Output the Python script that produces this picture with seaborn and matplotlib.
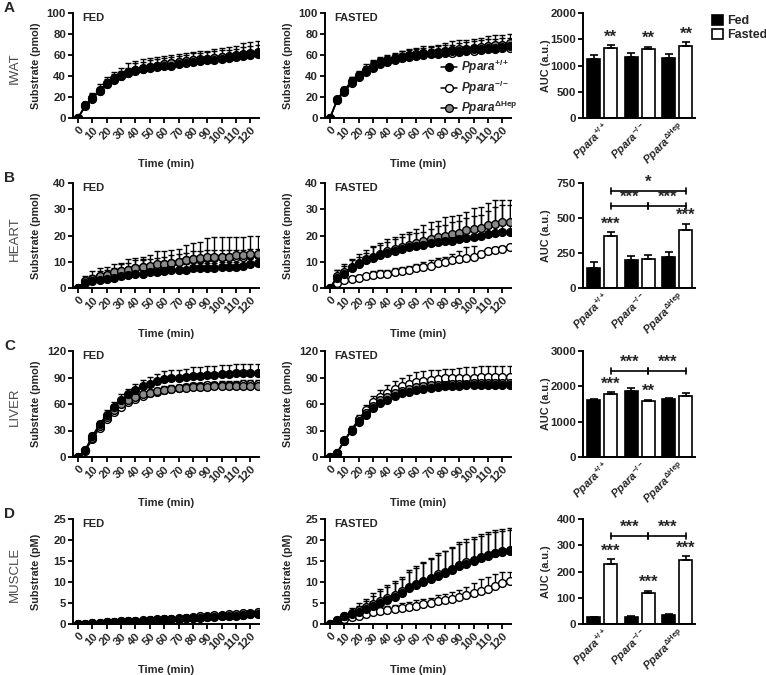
import numpy as np
import pandas as pd
import matplotlib
matplotlib.use('Agg')
import matplotlib.pyplot as plt
import seaborn as sns
from matplotlib.patches import Patch

sns.set_theme(style='ticks')
plt.rcParams['font.family'] = ['Liberation Sans', 'DejaVu Sans']
plt.rcParams['font.weight'] = 'bold'
plt.rcParams['axes.labelweight'] = 'bold'
plt.rcParams['mathtext.fontset'] = 'custom'
plt.rcParams['mathtext.it'] = 'Liberation Sans:italic:bold'
plt.rcParams['mathtext.rm'] = 'Liberation Sans:bold'
plt.rcParams['mathtext.bf'] = 'Liberation Sans:bold'
plt.rcParams['mathtext.sf'] = 'Liberation Sans:bold'

# ---------------- data ----------------
time_min = [0, 5, 10, 15, 20, 25, 30, 35, 40, 45, 50, 55, 60, 65, 70, 75, 80, 85, 90, 95, 100, 105, 110, 115, 120, 125]
tick_times = [0, 10, 20, 30, 40, 50, 60, 70, 80, 90, 100, 110, 120]

genotypes = ['Ppara+/+', 'Ppara-/-', 'PparaDHep']
geno_labels = [r'$\mathit{Ppara}^{+/+}$', r'$\mathit{Ppara}^{-/-}$', r'$\mathit{Ppara}^{\Delta\mathrm{Hep}}$']
conditions = ['Fed', 'Fasted']
tissues = ['IWAT', 'HEART', 'LIVER', 'MUSCLE']
panel_letters = ['A', 'B', 'C', 'D']
line_ylabels = ['Substrate (pmol)', 'Substrate (pmol)', 'Substrate (pmol)', 'Substrate (pM)']
line_yticks = [[0, 20, 40, 60, 80, 100], [0, 10, 20, 30, 40], [0, 30, 60, 90, 120], [0, 5, 10, 15, 20, 25]]
bar_yticks = [[0, 500, 1000, 1500, 2000], [0, 250, 500, 750], [0, 1000, 2000, 3000], [0, 100, 200, 300, 400]]

# IWAT
iwat_fed_wt = [0, 11, 18, 26, 32, 36, 40, 43, 45, 47, 48, 49, 50, 50, 51, 52, 53, 54, 55, 55, 56, 57, 58, 59, 60, 61]
iwat_fed_wt_err = [0, 2, 3, 3, 3, 3, 3, 3, 3, 3, 3, 3, 3, 3, 3, 3, 3, 3, 3, 3, 3, 3, 3, 3, 3, 3]
iwat_fed_ko = [0, 12, 19, 27, 33, 38, 41, 44, 46, 48, 49, 50, 51, 52, 53, 54, 55, 56, 56, 57, 58, 59, 60, 61, 62, 63]
iwat_fed_ko_err = [0, 3, 5, 5, 6, 6, 7, 8, 8, 8, 8, 8, 8, 8, 8, 8, 8, 8, 8, 9, 9, 9, 9, 10, 10, 10]
iwat_fed_hep = [0, 12, 19, 26, 32, 37, 40, 43, 46, 47, 49, 50, 51, 52, 53, 54, 55, 55, 56, 57, 58, 58, 59, 60, 61, 62]
iwat_fed_hep_err = [0, 2, 4, 4, 5, 5, 5, 5, 6, 6, 6, 6, 6, 6, 6, 6, 7, 7, 7, 7, 7, 7, 7, 8, 8, 8]
iwat_fast_wt = [0, 17, 26, 34, 40, 45, 49, 52, 54, 56, 58, 59, 60, 61, 62, 62, 63, 64, 64, 65, 66, 66, 67, 67, 68, 69]
iwat_fast_wt_err = [0, 2, 3, 4, 4, 4, 4, 4, 4, 4, 4, 4, 4, 4, 4, 4, 4, 4, 4, 4, 4, 4, 4, 4, 4, 4]
iwat_fast_ko = [0, 17, 25, 33, 39, 44, 48, 51, 53, 55, 57, 58, 59, 60, 61, 61, 62, 62, 63, 64, 64, 65, 66, 66, 67, 67]
iwat_fast_ko_err = [0, 2, 4, 6, 5, 6, 6, 6, 6, 6, 7, 7, 7, 7, 7, 8, 8, 8, 8, 8, 9, 9, 9, 9, 9, 9]
iwat_fast_hep = [0, 18, 27, 35, 41, 46, 50, 53, 55, 57, 58, 60, 61, 62, 62, 63, 64, 65, 66, 66, 67, 68, 69, 70, 70, 71]
iwat_fast_hep_err = [0, 2, 3, 4, 4, 5, 5, 5, 5, 5, 6, 6, 6, 7, 7, 7, 7, 8, 8, 8, 8, 8, 9, 9, 9, 9]

# HEART
heart_fed_wt = [0, 2, 2.5, 3, 3.5, 4, 4.5, 5, 5.5, 5.5, 6, 6, 6.5, 7, 7, 7, 7.5, 7.5, 7.5, 7.5, 8, 8, 8, 8.5, 9, 9.5]
heart_fed_wt_err = [0, 1, 1, 1, 1.5, 1.5, 2, 2, 2, 5, 2, 2, 2, 2, 2, 2, 2, 2, 2, 2, 2, 2, 2, 2, 2, 2]
heart_fed_ko = [0, 2.5, 3.5, 4.5, 5, 5.5, 6.5, 7, 7.5, 8, 8, 8.5, 9, 9.5, 10, 10.5, 11, 11, 11.5, 11.5, 12, 12, 12, 12, 12.5, 12.5]
heart_fed_ko_err = [0, 1, 1.5, 2, 2, 2, 2.5, 2.5, 3, 3, 3, 3, 3, 3, 3, 3, 3, 3, 3, 3, 2.5, 2.5, 2.5, 2.5, 2.5, 2.5]
heart_fed_hep = [0, 2.5, 3.5, 4.5, 5, 6, 6.5, 7, 7.5, 8, 8.5, 9, 9, 9.5, 10, 10.5, 11, 11.5, 12, 12, 12, 12, 12.5, 12.5, 13, 13]
heart_fed_hep_err = [0, 2, 3, 3, 3, 3, 3, 4, 4, 4, 4, 5, 5, 5, 5, 6, 6, 6, 7, 7.5, 7.5, 7.5, 7, 7, 7, 7]
heart_fast_wt = [0, 4, 5.5, 7.5, 9, 10.5, 11.5, 12.5, 13.5, 14, 15, 15.5, 16, 16.5, 17, 17.5, 18, 18, 18.5, 19, 19.5, 20, 20.5, 21, 21.5, 21.5]
heart_fast_wt_err = [0, 3, 3, 3, 3, 3, 4, 4, 4, 4.5, 4.5, 5, 5, 5, 5.5, 6, 6, 7, 7, 7.5, 8, 8, 9, 10, 10, 10]
heart_fast_ko = [0, 2, 3, 3.5, 4, 4.5, 5, 5.5, 5.5, 6, 6.5, 7, 7.5, 8, 8.5, 9.5, 10, 10.5, 11, 11.5, 12, 13, 14, 14.5, 15, 15.5]
heart_fast_ko_err = [0, 1, 1, 1, 1, 1, 1.5, 1.5, 1.5, 1.5, 1.5, 1.5, 1.5, 2, 2, 2, 2, 2.5, 3, 4, 4, 1, 1, 1, 1, 1]
heart_fast_hep = [0, 4.5, 6, 8, 9.5, 11, 12, 13, 14, 15, 15.5, 16.5, 17, 18, 18.5, 19.5, 20, 20.5, 21, 22, 22.5, 23, 24, 24.5, 25, 25]
heart_fast_hep_err = [0, 2.5, 3, 3, 3.5, 3.5, 4, 4, 4.5, 4.5, 5, 5, 5.5, 6, 6.5, 6, 7, 7, 7, 7, 8, 8, 8.5, 9, 8.5, 8.5]

# LIVER
liver_fed_wt = [0, 8, 24, 37, 48, 57, 65, 71, 76, 80, 83, 86, 88, 89, 90, 91, 92, 92, 93, 93, 94, 94, 95, 95, 95, 95]
liver_fed_wt_err = [0, 2, 3, 4, 5, 5, 6, 6, 7, 7, 8, 8, 9, 9, 9, 9, 10, 10, 10, 10, 10, 10, 10, 10, 10, 10]
liver_fed_ko = [0, 7, 20, 33, 43, 51, 57, 62, 66, 69, 72, 74, 76, 77, 78, 79, 80, 80, 81, 81, 82, 82, 82, 83, 83, 83]
liver_fed_ko_err = [0, 2, 3, 4, 4, 4, 4, 4, 4, 4, 4, 4, 4, 4, 4, 4, 4, 4, 4, 4, 4, 4, 4, 4, 4, 4]
liver_fed_hep = [0, 8, 22, 35, 45, 53, 60, 64, 68, 71, 73, 75, 76, 77, 78, 78, 79, 79, 79, 80, 80, 80, 80, 80, 80, 80]
liver_fed_hep_err = [0, 2, 2, 3, 3, 3, 3, 3, 3, 3, 3, 3, 3, 3, 3, 3, 3, 3, 3, 3, 3, 3, 3, 3, 3, 3]
liver_fast_wt = [0, 5, 18, 30, 40, 48, 55, 61, 65, 69, 72, 74, 76, 77, 78, 79, 80, 80, 80, 81, 81, 81, 81, 82, 82, 82]
liver_fast_wt_err = [0, 1, 2, 3, 4, 4, 4, 4, 4, 4, 4, 4, 4, 4, 4, 4, 4, 4, 4, 4, 4, 4, 4, 4, 4, 4]
liver_fast_ko = [0, 5, 19, 31, 43, 53, 62, 68, 73, 77, 80, 83, 85, 86, 87, 88, 89, 89, 90, 90, 90, 91, 91, 91, 91, 91]
liver_fast_ko_err = [0, 2, 3, 4, 5, 6, 7, 8, 8, 9, 10, 10, 11, 11, 11, 11, 11, 11, 11, 12, 12, 12, 12, 12, 12, 12]
liver_fast_hep = [0, 5, 18, 31, 41, 50, 58, 64, 68, 72, 75, 77, 79, 80, 81, 82, 82, 83, 83, 83, 84, 84, 84, 84, 84, 84]
liver_fast_hep_err = [0, 1, 2, 3, 4, 4, 4, 4, 4, 4, 4, 4, 4, 4, 4, 4, 4, 4, 4, 4, 4, 4, 4, 4, 4, 4]

# MUSCLE
muscle_fed_wt = [0, 0.1, 0.2, 0.3, 0.4, 0.5, 0.5, 0.6, 0.7, 0.8, 0.9, 1.0, 1.1, 1.2, 1.3, 1.4, 1.4, 1.5, 1.6, 1.7, 1.8, 1.9, 2.0, 2.1, 2.3, 2.5]
muscle_fed_wt_err = [0, 0.1, 0.1, 0.1, 0.1, 0.1, 0.1, 0.1, 0.1, 0.1, 0.2, 0.2, 0.2, 0.2, 0.2, 0.2, 0.2, 0.2, 0.2, 0.2, 0.2, 0.2, 0.2, 0.2, 0.2, 0.2]
muscle_fed_ko = [0, 0.1, 0.2, 0.3, 0.4, 0.5, 0.6, 0.7, 0.7, 0.8, 0.9, 1.0, 1.1, 1.2, 1.3, 1.4, 1.5, 1.6, 1.7, 1.8, 1.9, 2.0, 2.1, 2.2, 2.4, 2.6]
muscle_fed_ko_err = [0, 0.1, 0.1, 0.1, 0.1, 0.1, 0.1, 0.1, 0.1, 0.1, 0.2, 0.2, 0.2, 0.2, 0.2, 0.2, 0.2, 0.2, 0.2, 0.2, 0.2, 0.2, 0.2, 0.2, 0.2, 0.2]
muscle_fed_hep = [0, 0.1, 0.2, 0.3, 0.4, 0.5, 0.6, 0.7, 0.8, 0.9, 1.0, 1.1, 1.2, 1.3, 1.4, 1.5, 1.7, 1.8, 1.9, 2.1, 2.2, 2.3, 2.4, 2.6, 2.7, 2.8]
muscle_fed_hep_err = [0, 0.1, 0.1, 0.1, 0.1, 0.1, 0.1, 0.1, 0.1, 0.1, 0.2, 0.2, 0.2, 0.2, 0.2, 0.2, 0.2, 0.2, 0.2, 0.2, 0.2, 0.2, 0.2, 0.2, 0.2, 0.2]
muscle_fast_wt = [0, 1.0, 1.8, 2.3, 2.8, 3.5, 4.2, 5.0, 5.8, 6.5, 7.3, 8.5, 9.2, 10.0, 10.8, 11.5, 12.2, 12.8, 13.8, 14.3, 15.0, 15.7, 16.2, 16.8, 17.2, 17.5]
muscle_fast_wt_err = [0, 0.3, 0.6, 1.0, 1.5, 2.0, 2.5, 2.8, 3.0, 3.2, 3.5, 4.0, 4.2, 4.5, 4.7, 5.0, 5.2, 5.2, 5.3, 5.3, 5.3, 5.2, 5.2, 5.0, 5.0, 5.0]
muscle_fast_ko = [0, 0.8, 1.2, 1.6, 2.0, 2.4, 2.8, 3.0, 3.3, 3.5, 3.8, 4.1, 4.4, 4.7, 5.0, 5.4, 5.7, 6.0, 6.4, 6.8, 7.3, 7.8, 8.3, 9.0, 9.8, 10.2]
muscle_fast_ko_err = [0, 0.2, 0.4, 0.6, 0.8, 1.0, 1.0, 1.0, 1.0, 1.1, 1.2, 1.2, 1.2, 1.2, 1.3, 1.4, 1.5, 1.6, 1.8, 2.0, 2.5, 2.8, 3.0, 3.0, 2.5, 2.3]
muscle_fast_hep = [0, 1.0, 1.8, 2.6, 3.3, 4.0, 4.8, 5.5, 6.3, 7.0, 7.8, 8.8, 9.5, 10.2, 11.0, 11.8, 12.3, 13.0, 14.0, 14.8, 15.3, 16.0, 16.5, 17.0, 17.3, 17.6]
muscle_fast_hep_err = [0, 0.4, 0.8, 1.2, 1.6, 2.0, 2.5, 2.8, 3.0, 3.2, 3.5, 4.0, 4.2, 4.5, 4.8, 5.0, 5.2, 5.4, 5.5, 5.5, 5.5, 5.5, 5.5, 5.4, 5.3, 5.2]

# AUC bars (order: +/+, -/-, dHep)
iwat_auc_fed = [1130, 1165, 1140]
iwat_auc_fed_err = [70, 75, 80]
iwat_auc_fast = [1330, 1315, 1370]
iwat_auc_fast_err = [55, 45, 75]
heart_auc_fed = [145, 200, 220]
heart_auc_fed_err = [40, 30, 40]
heart_auc_fast = [370, 210, 415]
heart_auc_fast_err = [30, 25, 45]
liver_auc_fed = [1600, 1880, 1640]
liver_auc_fed_err = [40, 60, 30]
liver_auc_fast = [1780, 1580, 1730]
liver_auc_fast_err = [50, 40, 90]
muscle_auc_fed = [25, 28, 33]
muscle_auc_fed_err = [3, 4, 4]
muscle_auc_fast = [228, 117, 242]
muscle_auc_fast_err = [18, 10, 16]

# significance marks above Fasted bars, and brackets (between Fasted bars)
iwat_stars = ['**', '**', '**']
heart_stars = ['***', '', '***']
liver_stars = ['***', '**', '']
muscle_stars = ['***', '***', '***']
heart_brackets = [(0, 2, 695, '*'), (0, 1, 588, '***'), (1, 2, 588, '***')]
liver_brackets = [(0, 1, 2430, '***'), (1, 2, 2430, '***')]
muscle_brackets = [(0, 1, 335, '***'), (1, 2, 335, '***')]

# ---------------- assemble ----------------
line_data = [
    {'fed': {'wt': (iwat_fed_wt, iwat_fed_wt_err), 'ko': (iwat_fed_ko, iwat_fed_ko_err), 'hep': (iwat_fed_hep, iwat_fed_hep_err)},
     'fast': {'wt': (iwat_fast_wt, iwat_fast_wt_err), 'ko': (iwat_fast_ko, iwat_fast_ko_err), 'hep': (iwat_fast_hep, iwat_fast_hep_err)}},
    {'fed': {'wt': (heart_fed_wt, heart_fed_wt_err), 'ko': (heart_fed_ko, heart_fed_ko_err), 'hep': (heart_fed_hep, heart_fed_hep_err)},
     'fast': {'wt': (heart_fast_wt, heart_fast_wt_err), 'ko': (heart_fast_ko, heart_fast_ko_err), 'hep': (heart_fast_hep, heart_fast_hep_err)}},
    {'fed': {'wt': (liver_fed_wt, liver_fed_wt_err), 'ko': (liver_fed_ko, liver_fed_ko_err), 'hep': (liver_fed_hep, liver_fed_hep_err)},
     'fast': {'wt': (liver_fast_wt, liver_fast_wt_err), 'ko': (liver_fast_ko, liver_fast_ko_err), 'hep': (liver_fast_hep, liver_fast_hep_err)}},
    {'fed': {'wt': (muscle_fed_wt, muscle_fed_wt_err), 'ko': (muscle_fed_ko, muscle_fed_ko_err), 'hep': (muscle_fed_hep, muscle_fed_hep_err)},
     'fast': {'wt': (muscle_fast_wt, muscle_fast_wt_err), 'ko': (muscle_fast_ko, muscle_fast_ko_err), 'hep': (muscle_fast_hep, muscle_fast_hep_err)}},
]
bar_data = [
    (iwat_auc_fed, iwat_auc_fed_err, iwat_auc_fast, iwat_auc_fast_err, iwat_stars, []),
    (heart_auc_fed, heart_auc_fed_err, heart_auc_fast, heart_auc_fast_err, heart_stars, heart_brackets),
    (liver_auc_fed, liver_auc_fed_err, liver_auc_fast, liver_auc_fast_err, liver_stars, liver_brackets),
    (muscle_auc_fed, muscle_auc_fed_err, muscle_auc_fast, muscle_auc_fast_err, muscle_stars, muscle_brackets),
]

FACE = {'wt': 'black', 'ko': 'white', 'hep': '#8a8a8a'}
LABEL = {'wt': geno_labels[0], 'ko': geno_labels[1], 'hep': geno_labels[2]}

W, H = 766, 675
fig = plt.figure(figsize=(W / 100, H / 100), dpi=100)


def px_axes(x0, y0, x1, y1):
    return fig.add_axes([x0 / W, 1 - y1 / H, (x1 - x0) / W, (y1 - y0) / H])


row_top = [13, 183, 351, 519]
row_bot = [118, 288, 457, 624]
TICK_FS = 8.2


def style_axis(ax):
    sns.despine(ax=ax)
    for s in ['left', 'bottom']:
        ax.spines[s].set_linewidth(1.4)
        ax.spines[s].set_color('black')
    ax.tick_params(axis='both', width=1.3, length=3.5, labelsize=TICK_FS, pad=1.5, color='black')
    ax.set_facecolor('none')
    ax.grid(False)


def line_panel(ax, data, yticks, ylabel, tag):
    for key in ['ko', 'hep', 'wt']:
        y, e = data[key]
        ax.errorbar(time_min, y, yerr=[np.zeros(len(e)), e], fmt='none', ecolor='black',
                    elinewidth=1.0, capsize=2.5, capthick=1.0, zorder=2)
        sns.lineplot(x=time_min, y=y, ax=ax, color='black', lw=1.1, marker='o', markersize=5.6,
                     markerfacecolor=FACE[key], markeredgecolor='black', markeredgewidth=1.0,
                     label=LABEL[key], legend=False, zorder=3, errorbar=None)
    ax.set_xlim(-3.5, 126)
    ax.set_ylim(yticks[0], yticks[-1])
    ax.set_yticks(yticks)
    ax.set_xticks(tick_times)
    ax.set_xticklabels([str(v) for v in tick_times], rotation=45, ha='right', va='top',
                       rotation_mode='anchor')
    style_axis(ax)
    ax.set_ylabel(ylabel, fontsize=7.8, fontweight='bold')
    ax.yaxis.set_label_coords(-0.17, 0.5)
    ax.set_xlabel('Time (min)', fontsize=8, fontweight='bold')
    ax.xaxis.set_label_coords(0.5, -0.39)
    ax.text(0.05, 0.955, tag, transform=ax.transAxes, fontsize=8, fontweight='bold', va='center', ha='left')


def bar_panel(ax, fed, fed_err, fast, fast_err, stars, brackets, yticks):
    df = pd.DataFrame({'genotype': genotypes * 2,
                       'condition': ['Fed'] * 3 + ['Fasted'] * 3,
                       'auc': list(fed) + list(fast)})
    sns.barplot(data=df, x='genotype', y='auc', hue='condition', order=genotypes, hue_order=conditions,
                palette={'Fed': 'black', 'Fasted': 'white'}, saturation=1, edgecolor='black', linewidth=1.2,
                width=0.92, gap=0.25, errorbar=None, legend=False, ax=ax)
    ymax = yticks[-1]
    fasted_x = []
    for k, (cont, errs) in enumerate(zip(ax.containers[:2], [fed_err, fast_err])):
        xs = [p.get_x() + p.get_width() / 2 for p in cont.patches]
        hs = [p.get_height() for p in cont.patches]
        ax.errorbar(xs, hs, yerr=[np.zeros(len(errs)), errs], fmt='none', ecolor='black',
                    elinewidth=1.2, capsize=3.0, capthick=1.2, zorder=1)
        if k == 1:
            fasted_x = xs
    for i, s in enumerate(stars):
        if s:
            ax.text(fasted_x[i], fast[i] + fast_err[i] + ymax * 0.005, s, ha='center', va='bottom',
                    fontsize=12, fontweight='bold')
    d = ymax * 0.03
    for (i0, i1, yb, s) in brackets:
        ax.plot([fasted_x[i0], fasted_x[i1]], [yb, yb], color='black', lw=1.2, clip_on=False)
        for xi in (fasted_x[i0], fasted_x[i1]):
            ax.plot([xi, xi], [yb - d, yb + d], color='black', lw=1.2, clip_on=False)
        ax.text((fasted_x[i0] + fasted_x[i1]) / 2, yb + ymax * 0.012, s, ha='center', va='bottom',
                fontsize=12, fontweight='bold')
    ax.set_xlim(-0.51, 2.47)
    ax.set_ylim(0, ymax)
    ax.set_yticks(yticks)
    ax.set_xticks([0, 1, 2])
    ax.set_xticklabels(geno_labels, rotation=45, ha='right', va='top', rotation_mode='anchor')
    style_axis(ax)
    ax.tick_params(axis='x', length=0, labelsize=7.9, pad=1)
    ax.set_xlabel('')
    ax.set_ylabel('AUC (a.u.)', fontsize=7.8, fontweight='bold')
    ax.yaxis.set_label_coords(-0.29, 0.5)


for r in range(4):
    t0, t1 = row_top[r], row_bot[r]
    ax_fed = px_axes(73, t0, 259, t1)
    ax_fast = px_axes(325, t0, 511, t1)
    ax_bar = px_axes(583, t0, 695, t1)
    line_panel(ax_fed, line_data[r]['fed'], line_yticks[r], line_ylabels[r], 'FED')
    line_panel(ax_fast, line_data[r]['fast'], line_yticks[r], line_ylabels[r], 'FASTED')
    fed, fed_err, fast, fast_err, stars, brackets = bar_data[r]
    bar_panel(ax_bar, fed, fed_err, fast, fast_err, stars, brackets, bar_yticks[r])

    fig.text(4 / W, 1 - (t0 - 5) / H, panel_letters[r], fontsize=11, fontweight='bold', va='center', ha='left')
    fig.text(15 / W, 1 - ((t0 + t1) / 2 + 3) / H, tissues[r], fontsize=9.5, fontweight='normal',
             color='#4a4a4a', rotation=90, va='center', ha='center')

    if r == 0:
        handles, labels = ax_fast.get_legend_handles_labels()
        order = [labels.index(l) for l in geno_labels]
        ax_fast.legend([handles[i] for i in order], [labels[i] for i in order], loc='center left',
                       bbox_to_anchor=(0.6, 0.29), frameon=False, fontsize=8.5, handlelength=1.3,
                       handletextpad=0.4, labelspacing=0.2, borderaxespad=0)
        fig.legend(handles=[Patch(facecolor='black', edgecolor='black', linewidth=1.2),
                            Patch(facecolor='white', edgecolor='black', linewidth=1.2)],
                   labels=conditions, loc='upper left', bbox_to_anchor=(707 / W, 1 - 10 / H),
                   frameon=False, fontsize=9, handlelength=0.85, handleheight=0.85,
                   handletextpad=0.35, labelspacing=0.15, borderaxespad=0)

fig.savefig('out.png', dpi=100)
